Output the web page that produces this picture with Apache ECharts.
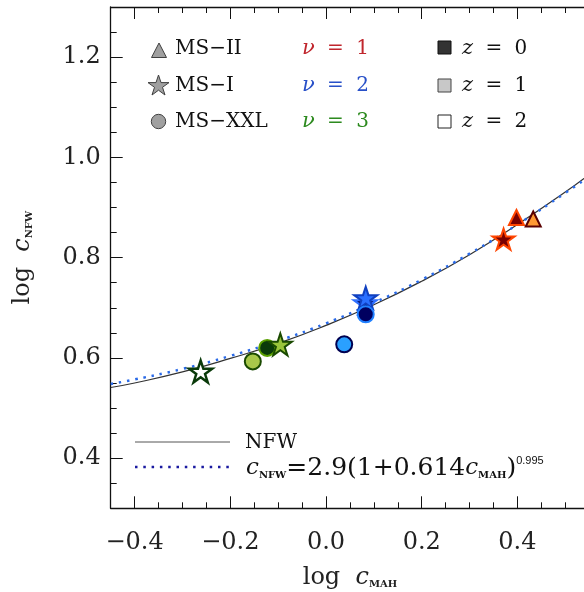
<!DOCTYPE html>
<html><head><meta charset="utf-8">
<script src="https://cdn.jsdelivr.net/npm/echarts@6/dist/echarts.min.js"></script>
<style>html,body{margin:0;padding:0;background:#fff;overflow:hidden}#c{width:584px;height:592px}</style>
</head><body><div id="c"></div>
<script>
// ---- data ----
const curveX = [-0.45, -0.4, -0.3, -0.2, -0.1, 0.0, 0.1, 0.2, 0.3, 0.4, 0.5, 0.55];
const nfwY   = [0.541, 0.550, 0.572, 0.599, 0.629, 0.665, 0.706, 0.753, 0.806, 0.866, 0.931, 0.966];
const fitY   = [0.548, 0.557, 0.578, 0.604, 0.634, 0.669, 0.710, 0.756, 0.808, 0.866, 0.929, 0.962];

const msII_nu1_z0  = [[0.398, 0.880]];
const msII_nu1_z1  = [[0.433, 0.877]];
const msI_nu1_z0   = [[0.371, 0.837]];
const msI_nu2_z0   = [[0.082, 0.710]];
const msI_nu2_z1   = [[0.083, 0.720]];
const msXXL_nu2_z0 = [[0.083, 0.687]];
const msXXL_nu2_z1 = [[0.038, 0.627]];
const msXXL_nu3_z0 = [[-0.123, 0.620]];
const msI_nu3_z1   = [[-0.0955, 0.627]];
const msXXL_nu3_z1 = [[-0.153, 0.593]];
const msI_nu3_z2   = [[-0.262, 0.573]];

const xMajorTicks = [-0.4, -0.2, 0.0, 0.2, 0.4];
const yMajorTicks = [0.4, 0.6, 0.8, 1.0, 1.2];

// ---- styling ----
const SERIF = '"DejaVu Serif", serif';
const STAR = 'path://M50,0L61.2,34.5L97.6,34.5L68.2,55.9L79.4,90.5L50,69.1L20.6,90.5L31.8,55.9L2.4,34.5L38.8,34.5Z';

function fmtMajor(v) {
  const r = Math.round(v * 5);
  if (Math.abs(v * 5 - r) > 1e-6) return '';
  return (r / 5).toFixed(1).replace('-', '\u2212');
}

function pt(name, data, symbol, size, fill, edge, bw) {
  return {
    name: name, type: 'scatter', data: data, symbol: symbol, symbolSize: size,
    symbolKeepAspect: true,
    itemStyle: { color: fill, borderColor: edge, borderWidth: bw || 2, opacity: 1 },
    xAxisIndex: 0, yAxisIndex: 0, z: 5
  };
}

const axisCol = '#111';
const nameRich = {
  n:   { fontFamily: SERIF, fontSize: 24, color: '#222' },
  ci:  { fontFamily: SERIF, fontSize: 24, fontStyle: 'italic', color: '#222' },
  sub: { fontFamily: SERIF, fontSize: 10, fontWeight: 'bold', color: '#222', verticalAlign: 'bottom' }
};

const xBase = { type: 'value', min: -0.45, max: 0.55, splitLine: { show: false } };
const yBase = { type: 'value', min: 0.3, max: 1.3, splitLine: { show: false } };
const noLine = { show: false, onZero: false };

const option = {
  animation: false,
  backgroundColor: '#fff',
  grid: { left: 110.7, width: 478.5, top: 7, height: 501.3, containLabel: false, outerBoundsMode: 'none' },
  xAxis: [
    Object.assign({}, xBase, {
      position: 'bottom', interval: 0.05,
      axisLine: { show: true, onZero: false, lineStyle: { color: axisCol, width: 1.3 } },
      axisTick: { show: true, inside: true, length: 6, lineStyle: { color: axisCol, width: 1 } },
      axisLabel: { show: true, interval: 0, formatter: fmtMajor, margin: 22, fontFamily: SERIF, fontSize: 24, color: '#222' },
      name: '{n|log  }{ci|c}{sub|MAH}', nameLocation: 'middle', nameGap: 57,
      nameTextStyle: { rich: nameRich }
    }),
    Object.assign({}, xBase, {
      position: 'bottom',
      axisLine: noLine,
      axisTick: { show: true, inside: true, length: 12, customValues: xMajorTicks, lineStyle: { color: axisCol, width: 1 } },
      axisLabel: { show: false }
    }),
    Object.assign({}, xBase, {
      position: 'top', interval: 0.05,
      axisLine: { show: true, onZero: false, lineStyle: { color: axisCol, width: 1.3 } },
      axisTick: { show: true, inside: true, length: 6, lineStyle: { color: axisCol, width: 1 } },
      axisLabel: { show: false }
    }),
    Object.assign({}, xBase, {
      position: 'top',
      axisLine: noLine,
      axisTick: { show: true, inside: true, length: 12, customValues: xMajorTicks, lineStyle: { color: axisCol, width: 1 } },
      axisLabel: { show: false }
    })
  ],
  yAxis: [
    Object.assign({}, yBase, {
      position: 'left', interval: 0.05,
      axisLine: { show: true, onZero: false, lineStyle: { color: axisCol, width: 1.3 } },
      axisTick: { show: true, inside: true, length: 6, lineStyle: { color: axisCol, width: 1 } },
      axisLabel: { show: true, interval: 0, formatter: fmtMajor, margin: 10, fontFamily: SERIF, fontSize: 24, color: '#222' },
      name: '{n|log  }{ci|c}{sub|NFW}', nameLocation: 'middle', nameGap: 76, nameRotate: 90,
      nameTextStyle: { rich: nameRich }
    }),
    Object.assign({}, yBase, {
      position: 'left',
      axisLine: noLine,
      axisTick: { show: true, inside: true, length: 12, customValues: yMajorTicks, lineStyle: { color: axisCol, width: 1 } },
      axisLabel: { show: false }
    })
  ],
  series: [
    { name: 'NFW', type: 'line', data: curveX.map((x, i) => [x, nfwY[i]]), smooth: true, showSymbol: false,
      lineStyle: { color: '#333', width: 1.2 }, xAxisIndex: 0, yAxisIndex: 0, z: 2 },
    { name: 'fit', type: 'line', data: curveX.map((x, i) => [x, fitY[i]]), smooth: true, showSymbol: false,
      lineStyle: { color: '#2a6ae8', width: 2.5, type: [2.5, 5.8] }, xAxisIndex: 0, yAxisIndex: 0, z: 3 },

    pt('MS-I nu3 z2',   msI_nu3_z2,   STAR, 23, '#ffffff', '#0a3a0a', 2.5),
    pt('MS-XXL nu3 z1', msXXL_nu3_z1, 'circle', 16, '#a8c84a', '#1a4a00', 2),
    pt('MS-XXL nu3 z0', msXXL_nu3_z0, 'circle', 16, '#0a3a0a', '#5aa000', 2),
    pt('MS-I nu3 z1',   msI_nu3_z1,   STAR, 23, '#99c43a', '#1a4a00', 2),

    pt('MS-XXL nu2 z1', msXXL_nu2_z1, 'circle', 16, '#2aa0ff', '#000050', 2),
    pt('MS-I nu2 z0',   msI_nu2_z0,   STAR, 23, '#000050', '#3070ff', 2),
    pt('MS-I nu2 z1',   msI_nu2_z1,   STAR, 23, '#2a6fff', '#1040c0', 2),
    pt('MS-XXL nu2 z0', msXXL_nu2_z0, 'circle', 16, '#000060', '#2080ff', 2),

    pt('MS-I nu1 z0',   msI_nu1_z0,   STAR, 22, '#7a0000', '#ff4500', 2),
    pt('MS-II nu1 z0',  msII_nu1_z0,  'triangle', 15, '#7a0000', '#ff4500', 2),
    pt('MS-II nu1 z1',  msII_nu1_z1,  'triangle', 15, '#ff9933', '#5a0000', 2)
  ],
  graphic: [
    // simulation legend
    { type: 'polygon', shape: { points: [[159, 43], [151.5, 57.5], [166.5, 57.5]] }, style: { fill: '#a0a0a0', stroke: '#404040', lineWidth: 1 } },
    { type: 'polygon', shape: { points: [[158.5,75],[161,82.6],[169,82.6],[162.5,87.3],[165,95],[158.5,90.2],[152,95],[154.5,87.3],[148,82.6],[156,82.6]] }, style: { fill: '#a0a0a0', stroke: '#404040', lineWidth: 1 } },
    { type: 'circle', shape: { cx: 158.5, cy: 121.5, r: 7.2 }, style: { fill: '#a0a0a0', stroke: '#404040', lineWidth: 1 } },
    { type: 'text', style: { text: 'MS\u2212II', x: 175, y: 49, font: '20px ' + SERIF, fill: '#111', verticalAlign: 'middle' } },
    { type: 'text', style: { text: 'MS\u2212I', x: 175, y: 86, font: '20px ' + SERIF, fill: '#111', verticalAlign: 'middle' } },
    { type: 'text', style: { text: 'MS\u2212XXL', x: 175, y: 122, font: '20px ' + SERIF, fill: '#111', verticalAlign: 'middle' } },
    // nu legend
    { type: 'text', style: { text: '{i|ν} {e|=} 1', x: 302, y: 49, verticalAlign: 'middle', fill: '#c0262d', font: '20px ' + SERIF,
      rich: { i: { fontFamily: SERIF, fontSize: 21, fontStyle: 'italic', fill: '#c0262d' }, e: { fontFamily: SERIF, fontSize: 20, fill: '#c0262d', padding: [0, 6] } } } },
    { type: 'text', style: { text: '{i|ν} {e|=} 2', x: 302, y: 86, verticalAlign: 'middle', fill: '#2850c8', font: '20px ' + SERIF,
      rich: { i: { fontFamily: SERIF, fontSize: 21, fontStyle: 'italic', fill: '#2850c8' }, e: { fontFamily: SERIF, fontSize: 20, fill: '#2850c8', padding: [0, 6] } } } },
    { type: 'text', style: { text: '{i|ν} {e|=} 3', x: 302, y: 122, verticalAlign: 'middle', fill: '#2d8a1f', font: '20px ' + SERIF,
      rich: { i: { fontFamily: SERIF, fontSize: 21, fontStyle: 'italic', fill: '#2d8a1f' }, e: { fontFamily: SERIF, fontSize: 20, fill: '#2d8a1f', padding: [0, 6] } } } },
    // z legend
    { type: 'rect', shape: { x: 438, y: 41, width: 13, height: 13 }, style: { fill: '#333333', stroke: '#111', lineWidth: 1 } },
    { type: 'rect', shape: { x: 438, y: 79, width: 13, height: 13 }, style: { fill: '#c8c8c8', stroke: '#444', lineWidth: 1 } },
    { type: 'rect', shape: { x: 438, y: 115, width: 13, height: 13 }, style: { fill: '#ffffff', stroke: '#222', lineWidth: 1 } },
    { type: 'text', style: { text: '{i|z} {e|=} 0', x: 462, y: 49, verticalAlign: 'middle', fill: '#111', font: '20px ' + SERIF,
      rich: { i: { fontFamily: SERIF, fontSize: 21, fontStyle: 'italic', fill: '#111' }, e: { fontFamily: SERIF, fontSize: 20, fill: '#111', padding: [0, 6] } } } },
    { type: 'text', style: { text: '{i|z} {e|=} 1', x: 462, y: 86, verticalAlign: 'middle', fill: '#111', font: '20px ' + SERIF,
      rich: { i: { fontFamily: SERIF, fontSize: 21, fontStyle: 'italic', fill: '#111' }, e: { fontFamily: SERIF, fontSize: 20, fill: '#111', padding: [0, 6] } } } },
    { type: 'text', style: { text: '{i|z} {e|=} 2', x: 462, y: 122, verticalAlign: 'middle', fill: '#111', font: '20px ' + SERIF,
      rich: { i: { fontFamily: SERIF, fontSize: 21, fontStyle: 'italic', fill: '#111' }, e: { fontFamily: SERIF, fontSize: 20, fill: '#111', padding: [0, 6] } } } },
    // line legend
    { type: 'line', shape: { x1: 135, y1: 442, x2: 230, y2: 442 }, style: { stroke: '#555', lineWidth: 1 } },
    { type: 'line', shape: { x1: 135, y1: 467, x2: 230, y2: 467 }, style: { stroke: '#1a1aa0', lineWidth: 2.5, lineDash: [2.5, 5.8] } },
    { type: 'text', style: { text: 'NFW', x: 245, y: 443, font: '20px ' + SERIF, fill: '#111', verticalAlign: 'middle' } },
    { type: 'text', style: { text: '{ci|c}{sub|NFW}{n|=2.9(1+0.614}{ci|c}{sub|MAH}{n|)}{sup|0.995}', x: 246, y: 468, verticalAlign: 'middle',
      rich: {
        n:   { fontFamily: SERIF, fontSize: 25, fill: '#111' },
        ci:  { fontFamily: SERIF, fontSize: 23, fontStyle: 'italic', fill: '#111' },
        sub: { fontFamily: SERIF, fontSize: 10, fontWeight: 'bold', fill: '#111', verticalAlign: 'bottom' },
        sup: { fontFamily: '"Liberation Sans", sans-serif', fontSize: 11, fill: '#111', verticalAlign: 'top' }
      } } }
  ]
};

const chart = echarts.init(document.getElementById('c'), null, { renderer: 'canvas' });
chart.setOption(option);
</script>
</body></html>
